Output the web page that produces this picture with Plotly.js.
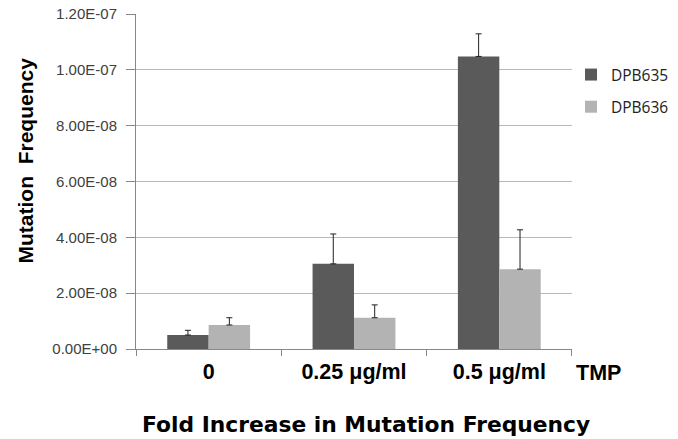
<!DOCTYPE html>
<html>
<head>
<meta charset="utf-8">
<script src="https://cdn.plot.ly/plotly-3.0.1.min.js"></script>
<style>html,body{margin:0;padding:0;background:#fff;}#chart{width:678px;height:439px;}</style>
</head>
<body>
<div id="chart"></div>
<script>
const categories = ["0", "0.25 \u03bcg/ml", "0.5 \u03bcg/ml"];
const dpb635 = [5.0e-9, 3.05e-8, 1.048e-7];
const dpb635Err = [1.7e-9, 1.07e-8, 8.1e-9];
const dpb636 = [8.6e-9, 1.12e-8, 2.86e-8];
const dpb636Err = [2.6e-9, 4.6e-9, 1.41e-8];
const yTickVals = [0, 2e-8, 4e-8, 6e-8, 8e-8, 1e-7, 1.2e-7];
const yTickText = ["0.00E+00", "2.00E-08", "4.00E-08", "6.00E-08", "8.00E-08", "1.00E-07", "1.20E-07"];

const errStyle = {type: "data", symmetric: false, arrayminus: [0,0,0], thickness: 1, width: 3, color: "#222"};

const traces = [
  {type: "bar", name: "DPB635", legendgroup: "a", x: categories, y: dpb635, marker: {color: "#5a5a5a"},
   error_y: Object.assign({}, errStyle, {array: dpb635Err})},
  {type: "bar", name: "DPB636", legendgroup: "b", x: categories, y: dpb636, marker: {color: "#b3b3b3"},
   error_y: Object.assign({}, errStyle, {array: dpb636Err})}
];

const boldArial = {family: "Liberation Sans, Arial, sans-serif", color: "#000", weight: "bold"};

const layout = {
  width: 678, height: 439,
  margin: {l: 136, r: 0, t: 14, b: 90},
  paper_bgcolor: "#fff", plot_bgcolor: "#fff",
  barmode: "group", bargap: 0.43, bargroupgap: 0,
  showlegend: true,
  legend: {x: 0.8026, xanchor: "left", y: 0.8687, yanchor: "top", traceorder: "grouped", tracegroupgap: 9,
           bgcolor: "rgba(0,0,0,0)",
           font: {family: "Open Sans, sans-serif", size: 15.5, color: "#222"}},
  xaxis: {
    domain: [0, 0.8044],
    type: "category", tickson: "boundaries", ticks: "outside", ticklen: 6, tickcolor: "#888",
    showline: true, linecolor: "#888", linewidth: 1, showgrid: false,
    tickfont: Object.assign({}, boldArial, {size: 21.5}),
    ticklabelstandoff: 3
  },
  yaxis: {
    range: [0, 1.2e-7], tickvals: yTickVals, ticktext: yTickText,
    ticks: "outside", ticklen: 9, tickcolor: "#888",
    showline: true, linecolor: "#888", linewidth: 1,
    showgrid: true, gridcolor: "#b8b8b8", gridwidth: 1, zeroline: false,
    tickfont: {family: "Liberation Sans, Arial, sans-serif", size: 15, color: "#404040"},
    ticklabelstandoff: 6
  },
  annotations: [
    {text: "TMP", xref: "paper", yref: "paper", x: 0.8533, y: 0, yshift: -24, xanchor: "center", yanchor: "middle", showarrow: false,
     font: Object.assign({}, boldArial, {size: 21.5})},
    {text: "Mutation\u00a0 Frequency", xref: "paper", yref: "paper", x: 0, xshift: -111, y: 0.5, yshift: 21, textangle: -90,
     xanchor: "center", yanchor: "middle", showarrow: false, font: Object.assign({}, boldArial, {size: 21})},
    {text: "Fold Increase in Mutation Frequency", xref: "paper", yref: "paper", x: 0.4244, y: 0, yshift: -75,
     xanchor: "center", yanchor: "middle", showarrow: false,
     font: {family: "DejaVu Sans, sans-serif", size: 21.8, color: "#000", weight: "bold"}}
  ]
};

Plotly.newPlot("chart", traces, layout, {displayModeBar: false, staticPlot: true});
</script>
</body>
</html>
